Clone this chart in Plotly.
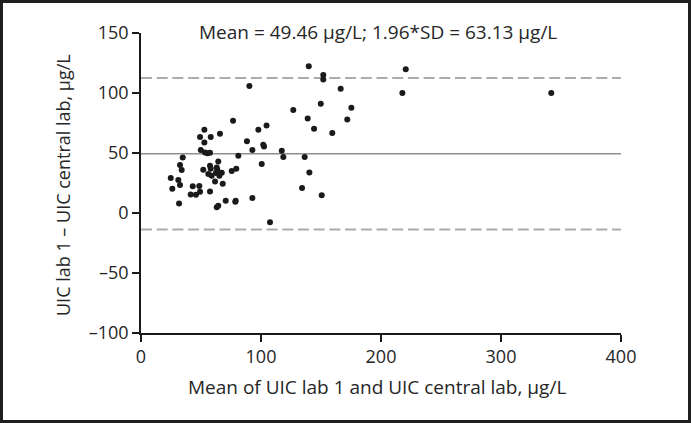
import plotly.graph_objects as go

# Bland-Altman data
mean_vals = [24.8, 26.1, 31.1, 32.5, 31.7, 34.8, 32.5, 33.9, 43.1, 48.6,
             41.4, 45.8, 49.2, 57.5, 49.8, 53.3, 55.3, 57.5, 52.8, 52.8,
             49.2, 58.1, 65.8, 76.7, 51.9, 57.5, 58.1, 64.4, 63.1, 63.6,
             56.1, 58.9, 62.5, 67.3, 65.3, 61.7, 68.1, 63.1, 64.4, 70.6,
             75.6, 79.4, 78.6, 78.9, 92.8, 81.1, 88.3, 92.8, 97.8, 104.6,
             101.9, 102.5, 100.6, 107.5, 90.3, 117.3, 118.6, 126.9, 136.4, 138.9,
             134.2, 140.3, 139.8, 144.2, 150.6, 149.8, 151.9, 151.9, 159.4, 166.4,
             171.9, 175.3, 220.6, 217.8, 341.9]
diff_vals = [29.2, 20.3, 27.5, 23.3, 8.0, 46.3, 40.0, 35.8, 22.2, 22.5,
             15.5, 15.3, 17.8, 18.0, 52.5, 50.5, 49.7, 50.3, 58.8, 69.4,
             63.3, 63.3, 66.1, 76.9, 36.1, 39.4, 36.9, 43.0, 38.0, 36.1,
             32.5, 31.1, 33.3, 33.6, 31.1, 26.3, 24.4, 4.7, 6.1, 10.3,
             35.0, 36.9, 9.4, 10.3, 12.5, 47.8, 59.7, 52.5, 69.4, 73.0,
             56.9, 55.5, 40.8, -7.8, 105.8, 51.9, 46.7, 85.8, 46.7, 78.8,
             20.8, 33.8, 122.2, 70.3, 14.7, 91.1, 115.0, 111.3, 66.7, 103.6,
             78.0, 87.8, 119.7, 100.0, 100.0]

mean_diff = 49.46
sd196 = 63.13
x_range = [0, 400]
y_range = [-100, 150]
x_ticks = [0, 100, 200, 300, 400]
y_ticks = [-100, -50, 0, 50, 100, 150]
y_tick_text = ["\u2013100", "\u201350", "0", "50", "100", "150"]

title_text = "Mean = 49.46 \u00b5g/L; 1.96*SD = 63.13 \u00b5g/L"
x_title = "Mean of UIC lab 1 and UIC central lab, \u00b5g/L"
y_title = "UIC lab 1 \u2013 UIC central lab, \u00b5g/L"

FONT = "Open Sans"
TXT = "#262626"

fig = go.Figure()

upper = mean_diff + sd196
lower = mean_diff - sd196
for yv in (upper, lower):
    fig.add_trace(go.Scatter(x=x_range, y=[yv, yv], mode="lines",
                             line=dict(color="#ababab", width=2, dash="11px,4.7px"),
                             hoverinfo="skip", showlegend=False))
fig.add_trace(go.Scatter(x=x_range, y=[mean_diff, mean_diff], mode="lines",
                         line=dict(color="#8f8f8f", width=1.5),
                         hoverinfo="skip", showlegend=False))
fig.add_trace(go.Scatter(x=mean_vals, y=diff_vals, mode="markers",
                         marker=dict(color="#1a1a1a", size=6),
                         showlegend=False, cliponaxis=False))

W, H = 691, 423
ml, mr, mt, mb = 141, 70, 33, 90
pw, ph = W - ml - mr, H - mt - mb

def px(x):
    return (x - ml) / pw

def py(y):
    return (H - mb - y) / ph

fig.update_layout(
    width=W, height=H,
    margin=dict(l=ml, r=mr, t=mt, b=mb, pad=0),
    paper_bgcolor="white", plot_bgcolor="white",
    font=dict(family=FONT, size=18, color=TXT),
    showlegend=False,
    xaxis=dict(range=x_range, tickvals=x_ticks, showgrid=False, zeroline=False,
               showline=True, linecolor="#1a1a1a", linewidth=1.5,
               ticks="outside", ticklen=7, tickwidth=1.5, tickcolor="#1a1a1a",
               tickfont=dict(family=FONT, size=18, color=TXT)),
    yaxis=dict(range=y_range, tickvals=y_ticks, ticktext=y_tick_text,
               showgrid=False, zeroline=False,
               showline=True, linecolor="#1a1a1a", linewidth=1.5,
               ticks="outside", ticklen=7, tickwidth=1.5, tickcolor="#1a1a1a",
               tickfont=dict(family=FONT, size=18, color=TXT)),
    annotations=[
        dict(text=title_text, xref="paper", yref="paper", x=px(378), y=py(32),
             xanchor="center", yanchor="middle", showarrow=False,
             font=dict(family=FONT, size=19, color=TXT)),
        dict(text=x_title, xref="paper", yref="paper", x=px(377), y=py(387),
             xanchor="center", yanchor="middle", showarrow=False,
             font=dict(family=FONT, size=19, color=TXT)),
        dict(text=y_title, xref="paper", yref="paper", x=px(63), y=py(185),
             xanchor="center", yanchor="middle", showarrow=False, textangle=-90,
             font=dict(family=FONT, size=18, color=TXT)),
    ],
    shapes=[dict(type="rect", xref="paper", yref="paper",
                 x0=px(1.5), x1=px(689.5), y0=py(421.5), y1=py(1.5),
                 line=dict(color="#1f1f1f", width=3), fillcolor="rgba(0,0,0,0)")],
)

fig.write_html("out.html",
               config={"displayModeBar": False},
               post_script="document.body.style.margin='0';document.body.style.padding='0';document.body.style.overflow='hidden';")
